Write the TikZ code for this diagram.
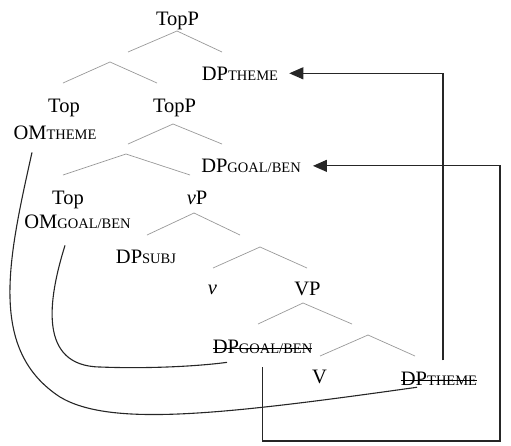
\documentclass[tikz,border=0pt]{standalone}
\usepackage{fontspec}
\setmainfont{Liberation Serif}
\usetikzlibrary{arrows.meta}

\newcommand{\smc}[1]{{\fontsize{14.5}{14.5}\selectfont #1}}

\tikzset{
    cat/.style = {font = \fontsize{20.5}{24}\selectfont, anchor = base, inner sep = 2pt},
    wedge/.style = {draw = gray!80, line width = 0.7pt},
    strike/.style = {draw = black, line width = 0.8pt},
    move/.style = {draw = black!85, line width = 1.1pt},
    moved/.style = {move, -{Triangle[length = 14pt, width = 12pt]}}
}

\begin{document}
\begin{tikzpicture}[x = 1pt, y = -1pt]
        \useasboundingbox (0,0) rectangle (511,445);

        \node[cat] (topP) at (177.5, 25.5){TopP};
        \node[cat] (dpTheme) at (240, 80){DP\smc{THEME}};
        \node[cat] (top1) at (64, 112){Top};
        \node[cat] (omTheme) at (55, 139.5){OM\smc{THEME}};
        \node[cat] (topP2) at (174.5, 112){TopP};
        \node[cat] (dpGoal) at (251, 172.5){DP\smc{GOAL/BEN}};
        \node[cat] (top2) at (68, 204.5){Top};
        \node[cat] (vP) at (197, 204.5){\textit{v}P};
        \node[cat] (omGoal) at (77.5, 228){OM\smc{GOAL/BEN}};
        \node[cat] (dpSubj) at (146, 263){DP\smc{SUBJ}};
        \node[cat] (v) at (212.5, 294){\textit{v}};
        \node[cat] (VP) at (307.5, 295){VP};
        \node[cat] (dpGoalT) at (262.5, 353){DP\smc{GOAL/BEN}};
        \node[cat] (V) at (319.5, 383.5){V};
        \node[cat] (dpThemeT) at (439, 385){DP\smc{THEME}};

        % traces are struck through
        \draw[strike] ([shift = {(2, -4.6)}]dpGoalT.base west) -- ([shift = {(-2, -4.6)}]dpGoalT.base east);
        \draw[strike] ([shift = {(2, -4.6)}]dpThemeT.base west) -- ([shift = {(-2, -4.6)}]dpThemeT.base east);

        % branches: apex, left reach, right reach, drop
        \foreach \n/\ax/\ay/\l/\r/\h in {1/177/31/49/45/21, 2/110/62/47/47/21, 3/173/124/45/49/20, 4/126/154/63/64/21,
                                         5/194/213/47/46/22, 6/260/247/47/47/21, 7/303/303/45/49/21, 8/368/335/48/47/21}{
            \coordinate (w\n) at (\ax, \ay);
            \draw[wedge] (w\n) ++(-\l, \h) -- (w\n) -- ++(\r, \h);
        }

        \coordinate (corner) at (500, 441);

        \draw[move] ([shift = {(-23, 10.5)}]omTheme.south) .. controls (8, 260) and (-12, 350) .. (60, 397)
            .. controls (110, 427) and (220, 415) .. ([shift = {(-22, 0)}]dpThemeT.south);
        \draw[move] ([shift = {(-12.5, 15)}]omGoal.south) .. controls (48, 300) and (38, 366) .. (100, 367)
            .. controls (150, 369) and (200, 366) .. ([shift = {(-35.5, 7)}]dpGoalT.south);

        \draw[moved, shorten >= 10pt] ([yshift = -12pt]dpGoalT.south) |- (corner) |- (dpGoal.east);
        \draw[moved, shorten >= 9pt] ([shift = {(4, -9)}]dpThemeT.north) |- (dpTheme.east);
\end{tikzpicture}
\end{document}
